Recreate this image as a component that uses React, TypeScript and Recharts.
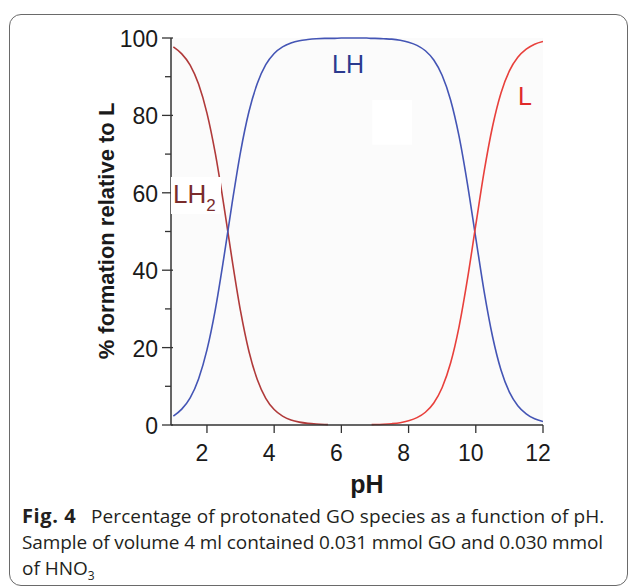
import React from 'react';
import { LineChart, Line, XAxis, YAxis, ReferenceArea } from 'recharts';

const phValues = [1, 1.25, 1.5, 1.75, 2, 2.25, 2.5, 2.75, 3, 3.25, 3.5, 3.75, 4, 4.25, 4.5, 4.75, 5, 5.25, 5.5, 5.6, 5.75, 6, 6.25, 6.5, 6.75, 6.9, 7, 7.25, 7.5, 7.75, 8, 8.25, 8.5, 8.75, 9, 9.25, 9.5, 9.75, 10, 10.25, 10.5, 10.75, 11, 11.25, 11.5, 11.75, 12];
const lh2Values = [97.7, 95.9, 93.0, 88.1, 80.6, 70.1, 56.9, 42.6, 29.4, 19.0, 11.7, 6.9, 4.0, 2.3, 1.3, 0.74, 0.42, 0.24, 0.13, 0.1, null, null, null, null, null, null, null, null, null, null, null, null, null, null, null, null, null, null, null, null, null, null, null, null, null, null, null];
const lhValues = [2.3, 4.1, 7.0, 11.9, 19.4, 29.9, 43.1, 57.4, 70.6, 81.0, 88.3, 93.1, 96.0, 97.7, 98.7, 99.3, 99.6, 99.8, 99.9, 99.9, 99.9, 100, 100, 100, 100, 99.9, 99.9, 99.8, 99.7, 99.4, 98.9, 98.1, 96.7, 94.3, 90.3, 84.0, 74.7, 62.4, 48.3, 34.4, 22.8, 14.2, 8.5, 5.0, 2.9, 1.6, 0.9];
const lValues = [null, null, null, null, null, null, null, null, null, null, null, null, null, null, null, null, null, null, null, null, null, null, null, null, null, 0.09, 0.11, 0.19, 0.34, 0.6, 1.1, 1.9, 3.3, 5.7, 9.7, 16.0, 25.3, 37.6, 51.7, 65.6, 77.2, 85.8, 91.5, 95.0, 97.1, 98.4, 99.1];

const xTicks = [2, 4, 6, 8, 10, 12];
const yTicks = [0, 10, 20, 30, 40, 50, 60, 70, 80, 90, 100];

const data = phValues.map((ph, i) => ({ ph, lh2: lh2Values[i], lh: lhValues[i], l: lValues[i] }));

const FONT = '"Liberation Sans", Arial, sans-serif';

const YTick = (props: any) => {
  const { x, y, payload } = props;
  const v = payload.value;
  const major = v % 20 === 0;
  return (
    <g>
      <line x1={x + (major ? 2 : 0)} x2={x - (major ? 9 : 6)} y1={y} y2={y} stroke="#333" strokeWidth={1.3} />
      {major && (
        <text x={x - 13} y={y + 1} textAnchor="end" dominantBaseline="central" fontSize={23} fill="#1a1a1a" fontFamily={FONT}>
          {v}
        </text>
      )}
    </g>
  );
};

const XTick = (props: any) => {
  const { x, y, payload } = props;
  return (
    <g>
      <line x1={x} x2={x} y1={y} y2={y + 8} stroke="#333" strokeWidth={1.3} />
      <text x={x - 5} y={y + 36} textAnchor="middle" fontSize={23} fill="#1a1a1a" fontFamily={FONT}>
        {payload.value}
      </text>
    </g>
  );
};

export default function App() {
  return (
    <div style={{ position: 'absolute', left: 0, top: 0, width: 629, height: 588, background: '#fff', overflow: 'hidden' }}>
      <div
        style={{
          position: 'absolute',
          left: 9,
          top: 14,
          width: 619,
          height: 572,
          border: '1px solid #6a6a6a',
          borderRadius: 12,
          boxSizing: 'border-box',
        }}
      />
      <div style={{ position: 'absolute', left: 0, top: 0 }}>
        <LineChart width={629} height={510} data={data} margin={{ top: 38, right: 86, bottom: 0, left: 0 }}>
          <XAxis
            dataKey="ph"
            type="number"
            domain={[0.93, 12]}
            ticks={xTicks}
            interval={0}
            height={85}
            tickSize={0}
            tickMargin={0}
            tickLine={false}
            tick={<XTick />}
            axisLine={{ stroke: '#333', strokeWidth: 1.5 }}
            allowDataOverflow
          />
          <XAxis xAxisId="top" orientation="top" dataKey="ph" type="number" domain={[0.93, 12]} height={0} tick={false} tickLine={false} axisLine={{ stroke: '#666', strokeWidth: 1.5 }} />
          <YAxis
            type="number"
            domain={[0, 100]}
            ticks={yTicks}
            interval={0}
            width={171}
            tickSize={0}
            tickMargin={0}
            tickLine={false}
            tick={<YTick />}
            axisLine={{ stroke: '#333', strokeWidth: 1.5 }}
          />
          <YAxis yAxisId="right" orientation="right" type="number" domain={[0, 100]} width={0} tick={false} tickLine={false} axisLine={{ stroke: '#666', strokeWidth: 1.5 }} />
          <ReferenceArea x1={0.93} x2={12} y1={0} y2={100} fill="#fbfbfb" fillOpacity={1} stroke="none" />
          <ReferenceArea x1={6.92} x2={8.1} y1={72.4} y2={84} fill="#ffffff" fillOpacity={1} stroke="none" />
          <Line type="monotone" dataKey="lh2" stroke="#b03a3a" strokeWidth={1.6} dot={false} isAnimationActive={false} />
          <Line type="monotone" dataKey="lh" stroke="#4455b5" strokeWidth={1.6} dot={false} isAnimationActive={false} />
          <Line type="monotone" dataKey="l" stroke="#e8403c" strokeWidth={1.6} dot={false} isAnimationActive={false} />
        </LineChart>
      </div>
      <svg width={629} height={510} style={{ position: 'absolute', left: 0, top: 0, pointerEvents: 'none' }}>
        <rect x={171} y={177} width={50} height={37} fill="#ffffff" />
        <text x={173} y={203} fontSize={26} fill="#7a2c2c" fontFamily={FONT}>
          LH<tspan fontSize={17} dy={8}>2</tspan>
        </text>
        <text x={332} y={73} fontSize={25} fill="#2b3a8f" fontFamily={FONT}>LH</text>
        <text x={518} y={105} fontSize={25} fill="#e02a2a" fontFamily={FONT}>L</text>
        <text
          transform="translate(114,231) rotate(-90)"
          textAnchor="middle"
          fontSize={22}
          fontWeight="bold"
          fill="#1a1a1a"
          fontFamily={FONT}
        >
          % formation relative to L
        </text>
        <text x={367} y={493} textAnchor="middle" fontSize={25} fontWeight="bold" fill="#1a1a1a" fontFamily={FONT}>
          pH
        </text>
      </svg>
      <div
        style={{
          position: 'absolute',
          left: 22,
          top: 503,
          width: 605,
          fontFamily: '"Open Sans", "Noto Sans", sans-serif',
          fontSize: 19,
          lineHeight: '26px',
          color: '#231f20',
          whiteSpace: 'nowrap',
        }}
      >
        <div style={{ height: 26 }}>
          <span style={{ fontWeight: 'bold', fontSize: 20, letterSpacing: 0.6, display: 'inline-block', width: 62 }}>Fig. 4</span>
          <span style={{ marginLeft: 7, letterSpacing: 0.1 }}>Percentage of protonated GO species as a function of pH.</span>
        </div>
        <div style={{ height: 26, letterSpacing: -0.1 }}>Sample of volume 4 ml contained 0.031 mmol GO and 0.030 mmol</div>
        <div style={{ height: 26 }}>
          of HNO<span style={{ fontSize: 12, position: 'relative', top: 5 }}>3</span>
        </div>
      </div>
    </div>
  );
}
